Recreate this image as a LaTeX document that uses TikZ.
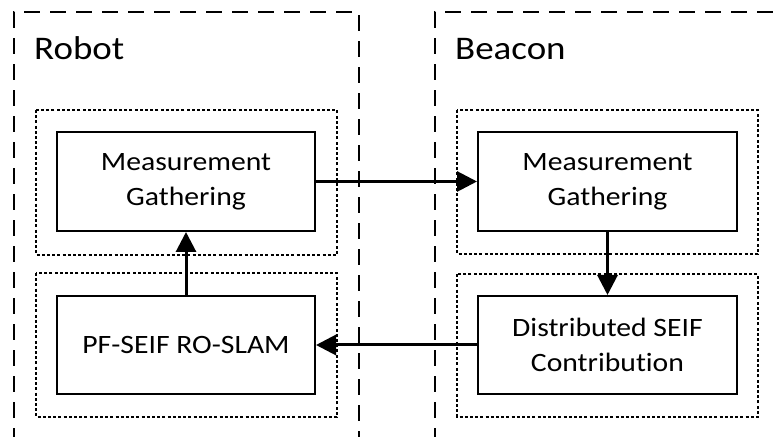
\documentclass[tikz,border=0pt]{standalone}
\usepackage{fontspec}
\setmainfont{Carlito}[FakeStretch=1.12, Ligatures=NoCommon]
\usetikzlibrary{arrows.meta}

\tikzset{
  unitbox/.style={draw=black, line width=2bp, dash pattern=on 16bp off 10bp},
  layerbox/.style={draw=black, line width=1.8bp, dash pattern=on 3bp off 2.2bp},
  procbox/.style={draw=black, line width=2bp, fill=white, align=center,
    inner sep=0pt, font=\fontsize{26.5bp}{35bp}\selectfont},
  flow/.style={line width=3bp, -{Triangle[length=20bp,width=20bp]}},
  unitlabel/.style={anchor=base west, inner sep=0pt, font=\fontsize{33bp}{38bp}\selectfont}
}

\begin{document}
\begin{tikzpicture}[x=1bp, y=-1bp]
  \useasboundingbox (0,0) rectangle (773,437);
  \begin{scope}
    \clip (0,0) rectangle (773,437);
    % agents
    \draw[unitbox] (14,470) -- (14,12) -- (359,12) -- (359,470);
    \draw[unitbox] (435,470) -- (435,12) -- (800,12);
    % layers
    \draw[layerbox] (36,110) rectangle (337,255);
    \draw[layerbox] (36,273) rectangle (337,417);
    \draw[layerbox] (457,110) rectangle (758,254);
    \draw[layerbox] (457,274) rectangle (758,417);
  \end{scope}

  \node[unitlabel] (robot) at (34,60) {Robot};
  \node[unitlabel] (beacon) at (455,60) {Beacon};

  \node[procbox, minimum width=258bp, minimum height=99bp] (rmg) at (186,181.5) {Measurement\\Gathering};
  \node[procbox, minimum width=258bp, minimum height=98bp] (pf) at (186,345) {PF-SEIF RO-SLAM};
  \node[procbox, minimum width=259bp, minimum height=99bp] (bmg) at (607.5,181.5) {Measurement\\Gathering};
  \node[procbox, minimum width=259bp, minimum height=98bp] (dist) at (607.5,345) {Distributed SEIF\\Contribution};

  \draw[flow] (rmg.east) -- (bmg.west);
  \draw[flow] (bmg.south) -- (dist.north);
  \draw[flow] (dist.west) -- (pf.east);
  \draw[flow] (pf.north) -- (rmg.south);
\end{tikzpicture}
\end{document}
